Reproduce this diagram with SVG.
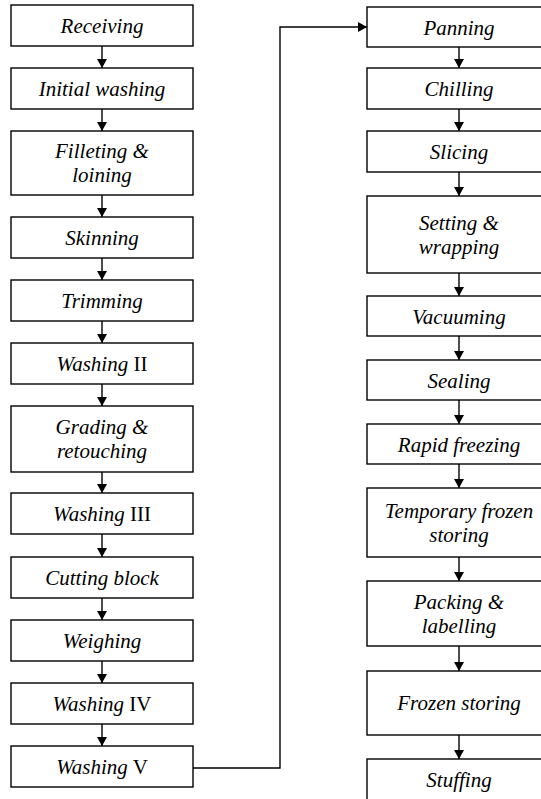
<svg xmlns="http://www.w3.org/2000/svg" width="541" height="799" viewBox="0 0 541 799">
<style>
.box{fill:#fff;stroke:#000;stroke-width:1.4}
.t{font-family:"Liberation Serif","Times New Roman",serif;font-size:21px;font-style:italic;text-anchor:middle;fill:#000}
.r{font-style:normal}
.c{fill:none;stroke:#000;stroke-width:1.4}
</style>
<defs>
<marker id="ah" viewBox="0 0 9 10" refX="9" refY="5" markerWidth="9" markerHeight="10" markerUnits="userSpaceOnUse" orient="auto">
<path d="M0,0 L9,5 L0,10 z" fill="#000"/>
</marker>
</defs>
<rect width="541" height="799" fill="#fff"/>
<g id="connectors">
<path class="c" marker-end="url(#ah)" d="M102,46 V68"/>
<path class="c" marker-end="url(#ah)" d="M102,109 V131"/>
<path class="c" marker-end="url(#ah)" d="M102,195 V217"/>
<path class="c" marker-end="url(#ah)" d="M102,258 V280"/>
<path class="c" marker-end="url(#ah)" d="M102,321 V343"/>
<path class="c" marker-end="url(#ah)" d="M102,384 V406"/>
<path class="c" marker-end="url(#ah)" d="M102,472 V493"/>
<path class="c" marker-end="url(#ah)" d="M102,534 V557"/>
<path class="c" marker-end="url(#ah)" d="M102,598 V620"/>
<path class="c" marker-end="url(#ah)" d="M102,661 V683"/>
<path class="c" marker-end="url(#ah)" d="M102,724 V746"/>
<path class="c" marker-end="url(#ah)" d="M193,768 H280 V27 H367"/>
<path class="c" marker-end="url(#ah)" d="M459,47 V68"/>
<path class="c" marker-end="url(#ah)" d="M459,109 V131"/>
<path class="c" marker-end="url(#ah)" d="M459,172 V196"/>
<path class="c" marker-end="url(#ah)" d="M459,273 V296"/>
<path class="c" marker-end="url(#ah)" d="M459,336 V360"/>
<path class="c" marker-end="url(#ah)" d="M459,400 V424"/>
<path class="c" marker-end="url(#ah)" d="M459,464 V488"/>
<path class="c" marker-end="url(#ah)" d="M459,557 V581"/>
<path class="c" marker-end="url(#ah)" d="M459,646 V671"/>
<path class="c" marker-end="url(#ah)" d="M459,735 V759"/>
</g>
<g id="receiving"><rect class="box" x="11" y="5" width="182" height="41"/><text class="t" x="102" y="33">Receiving</text></g>
<g id="initial-washing"><rect class="box" x="11" y="68" width="182" height="41"/><text class="t" x="102" y="96">Initial washing</text></g>
<g id="filleting"><rect class="box" x="11" y="131" width="182" height="64"/><text class="t" x="102" y="158">Filleting &amp;</text><text class="t" x="102" y="182">loining</text></g>
<g id="skinning"><rect class="box" x="11" y="217" width="182" height="41"/><text class="t" x="102" y="245">Skinning</text></g>
<g id="trimming"><rect class="box" x="11" y="280" width="182" height="41"/><text class="t" x="102" y="308">Trimming</text></g>
<g id="washing-2"><rect class="box" x="11" y="343" width="182" height="41"/><text class="t" x="102" y="371">Washing<tspan class="r"> II</tspan></text></g>
<g id="grading"><rect class="box" x="11" y="406" width="182" height="66"/><text class="t" x="102" y="434">Grading &amp;</text><text class="t" x="102" y="458">retouching</text></g>
<g id="washing-3"><rect class="box" x="11" y="493" width="182" height="41"/><text class="t" x="102" y="521">Washing<tspan class="r"> III</tspan></text></g>
<g id="cutting-block"><rect class="box" x="11" y="557" width="182" height="41"/><text class="t" x="102" y="585">Cutting block</text></g>
<g id="weighing"><rect class="box" x="11" y="620" width="182" height="41"/><text class="t" x="102" y="648">Weighing</text></g>
<g id="washing-4"><rect class="box" x="11" y="683" width="182" height="41"/><text class="t" x="102" y="711">Washing<tspan class="r"> IV</tspan></text></g>
<g id="washing-5"><rect class="box" x="11" y="746" width="182" height="41"/><text class="t" x="102" y="774">Washing<tspan class="r"> V</tspan></text></g>
<g id="panning"><rect class="box" x="367" y="7" width="184" height="40"/><text class="t" x="459" y="34.5">Panning</text></g>
<g id="chilling"><rect class="box" x="367" y="68" width="184" height="41"/><text class="t" x="459" y="96">Chilling</text></g>
<g id="slicing"><rect class="box" x="367" y="131" width="184" height="41"/><text class="t" x="459" y="159">Slicing</text></g>
<g id="setting"><rect class="box" x="367" y="196" width="184" height="77"/><text class="t" x="459" y="230">Setting &amp;</text><text class="t" x="459" y="254">wrapping</text></g>
<g id="vacuuming"><rect class="box" x="367" y="296" width="184" height="40"/><text class="t" x="459" y="323.5">Vacuuming</text></g>
<g id="sealing"><rect class="box" x="367" y="360" width="184" height="40"/><text class="t" x="459" y="387.5">Sealing</text></g>
<g id="rapid-freezing"><rect class="box" x="367" y="424" width="184" height="40"/><text class="t" x="459" y="451.5">Rapid freezing</text></g>
<g id="temporary"><rect class="box" x="367" y="488" width="184" height="69"/><text class="t" x="459" y="518">Temporary frozen</text><text class="t" x="459" y="542">storing</text></g>
<g id="packing"><rect class="box" x="367" y="581" width="184" height="65"/><text class="t" x="459" y="609">Packing &amp;</text><text class="t" x="459" y="633">labelling</text></g>
<g id="frozen-storing"><rect class="box" x="367" y="671" width="184" height="64"/><text class="t" x="459" y="710">Frozen storing</text></g>
<g id="stuffing"><rect class="box" x="367" y="759" width="184" height="44"/><text class="t" x="459" y="787">Stuffing</text></g>
</svg>
